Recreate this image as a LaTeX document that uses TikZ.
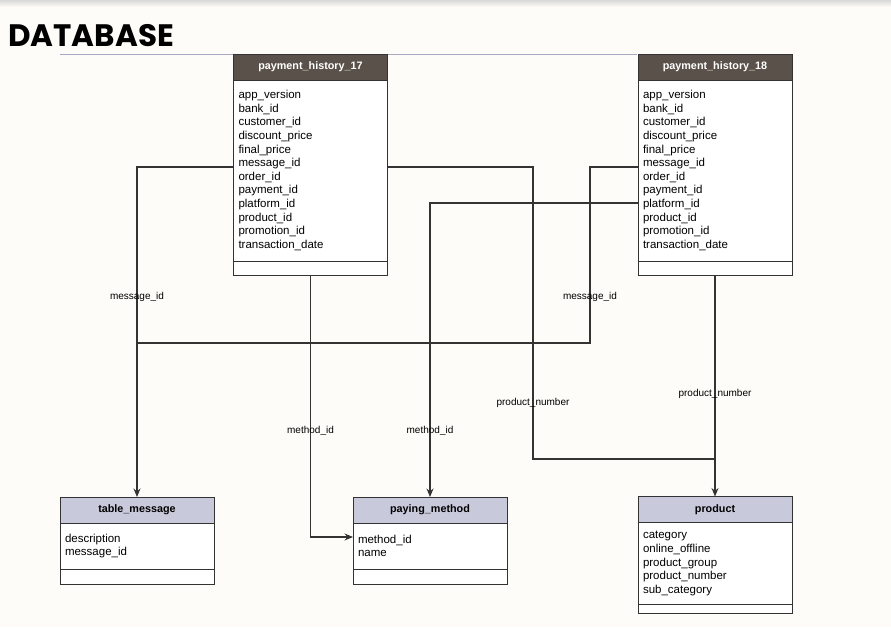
\documentclass[tikz,border=0pt]{standalone}
\usepackage{fontspec}
\usepackage{tikz}
\usetikzlibrary{arrows.meta,positioning}
\setmainfont{Liberation Sans}
\newfontfamily\titlefont{Poppins}
\definecolor{inkgray}{HTML}{333333}
\definecolor{hdrdark}{HTML}{5A524A}
\definecolor{hdrlight}{HTML}{C9C9DC}
\definecolor{pagebg}{HTML}{FDFCF8}
\definecolor{rulelav}{HTML}{A9A9C2}

\begin{document}
\begin{tikzpicture}[x=1pt,y=-1pt,
  hdr/.style={draw=inkgray,line width=.9pt,minimum width=154pt,minimum height=26pt,inner sep=0pt,outer sep=0pt,font=\fontsize{10.8}{12}\selectfont\bfseries},
  hdrd/.style={hdr,fill=hdrdark,text=white},
  hdrl/.style={hdr,fill=hdrlight,text=black},
  fields/.style={draw=inkgray,line width=.9pt,fill=white,text width=144pt,inner xsep=5pt,inner ysep=0pt,outer sep=0pt,align=left,font=\fontsize{11.5}{13.6}\selectfont},
  foot/.style={draw=inkgray,line width=.9pt,fill=white,minimum width=154pt,inner sep=0pt,outer sep=0pt},
  rel/.style={draw=inkgray,line width=1.1pt,>={Stealth[length=8.5pt,width=7pt]}},
  lbl/.style={font=\fontsize{10}{12}\selectfont,text=black,inner sep=1pt}]

\useasboundingbox[fill=pagebg] (0,0) rectangle (891,627);
\shade[top color=black!15,bottom color=pagebg] (0,0) rectangle (891,7);
\node[anchor=base west,inner sep=0pt,font=\titlefont\fontsize{31}{34}\selectfont\bfseries] (title) at (8,46) {DATABASE};
\draw[rulelav,line width=1pt] (60,54) -- (637,54);

% payment history tables
\node[hdrd] (h17) at (310.5,67) {payment\_history\_17};
\node[fields,minimum height=181pt,below=0pt of h17] (b17) {app\_version\\bank\_id\\customer\_id\\discount\_price\\final\_price\\message\_id\\order\_id\\payment\_id\\platform\_id\\product\_id\\promotion\_id\\transaction\_date};
\node[foot,minimum height=14pt,below=0pt of b17] (f17) {};

\node[hdrd] (h18) at (715,67) {payment\_history\_18};
\node[fields,minimum height=181pt,below=0pt of h18] (b18) {app\_version\\bank\_id\\customer\_id\\discount\_price\\final\_price\\message\_id\\order\_id\\payment\_id\\platform\_id\\product\_id\\promotion\_id\\transaction\_date};
\node[foot,minimum height=14pt,below=0pt of b18] (f18) {};

% lookup tables
\node[hdrl] (htm) at (137,510) {table\_message};
\node[fields,minimum height=46pt,below=0pt of htm] (btm) {description\\message\_id};
\node[foot,minimum height=15pt,below=0pt of btm] (ftm) {};

\node[hdrl] (hpm) at (430,510) {paying\_method};
\node[fields,minimum height=46pt,below=0pt of hpm] (bpm) {method\_id\\name};
\node[foot,minimum height=15pt,below=0pt of bpm] (fpm) {};

\node[hdrl] (hpr) at (715,509.5) {product};
\node[fields,minimum height=82pt,below=0pt of hpr] (bpr) {category\\online\_offline\\product\_group\\product\_number\\sub\_category};
\node[foot,minimum height=9pt,below=0pt of bpr] (fpr) {};

\coordinate (mj) at (590,343);
\coordinate (pj) at (533,459);

% relations
\draw[rel,->] ([yshift=3.5pt]b17.west) -| node[lbl,pos=.697] {message\_id} (htm.north);
\draw[rel] ([yshift=3.5pt]b18.west) -| node[lbl,pos=.869] {message\_id} (mj) -- (mj -| htm.north);
\draw[rel,->] (f17.south) |- node[lbl,pos=.298] {method\_id} ([yshift=9pt]bpm.west);
\draw[rel,->] ([yshift=-32.5pt]b18.west) -| node[lbl,pos=.888] {method\_id} (hpm.north);
\draw[rel] ([yshift=3.5pt]b17.east) -| node[lbl,pos=.904] {product\_number} (pj) -- (pj -| hpr.north);
\draw[rel,->] (f18.south) -- node[lbl,pos=.536] {product\_number} (hpr.north);
\end{tikzpicture}
\end{document}
